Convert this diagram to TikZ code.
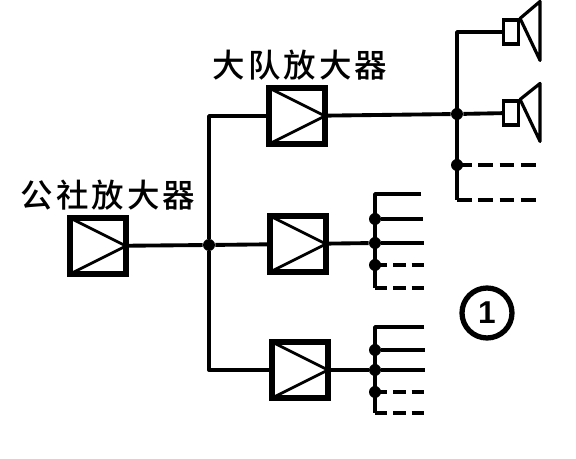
\documentclass[tikz,border=0pt]{standalone}
\usepackage{fontspec}
\newfontfamily\cjk[LetterSpace=9.5]{Noto Sans CJK SC Medium}
\newfontfamily\markfont{Liberation Sans}
\usepackage{tikz}

\begin{document}
\begin{tikzpicture}[
    x=0.02cm, y=-0.02cm,
    amp/.style={rectangle, draw=black, line width=3pt, inner sep=0pt, minimum size=1.12cm,
                path picture={\draw[line width=1.6pt] (path picture bounding box.north west)
                  -- (path picture bounding box.east) -- (path picture bounding box.south west);}},
    spk/.style={rectangle, draw=black, line width=1.8pt, inner sep=0pt, minimum width=0.3cm, minimum height=0.48cm},
    dot/.style={circle, fill=black, inner sep=0pt, minimum size=0.24cm},
    wire/.style={line width=2.2pt, line join=round},
    stub/.style={wire, dash pattern=on 7pt off 3.4pt},
    stublong/.style={wire, dash pattern=on 8.5pt off 3.6pt},
    cone/.style={line width=1.8pt, line join=round},
    lbl/.style={font=\cjk\fontsize{18.5}{18.5}\selectfont, inner sep=0pt}
]
\useasboundingbox (0,0) rectangle (576,459);

\node[lbl] (lblmain) at (108,195) {公社放大器};
\node[lbl] (lblsub)  at (300,65)  {大队放大器};

\node[amp] (ampmain) at (98,246)  {};
\node[amp] (ampa)    at (297,116) {};
\node[amp] (ampb)    at (298,244) {};
\node[amp] (ampc)    at (300,370) {};

\node[dot] (busdot)  at (209,245) {};
\draw[wire] (ampmain) -- (busdot);
\draw[wire] (busdot) |- (ampa);
\draw[wire] (busdot) -- (ampb);
\draw[wire] (busdot) |- (ampc);

% speakers
\node[spk] (spka) at (511,32)  {};
\node[spk] (spkb) at (511,113) {};
\draw[cone] (spka.north east) -- ++(20,-17) -- ++(0,59) -- cycle;
\draw[cone] (spkb.north east) -- ++(20,-16) -- ++(0,58) -- cycle;

\node[dot] (hubaa) at (457,114) {};
\node[dot] (hubab) at (457,165) {};
\coordinate (topa) at (457,32);
\coordinate (lowa) at (457,200);
\coordinate (enda) at (536,165);
\coordinate (endb) at (538,200);
\draw[wire] (ampa) -- (hubaa);
\draw[wire] (hubaa) -- (spkb);
\draw[wire] (spka.west) -| (topa) -- (lowa);
\draw[stublong] (hubab.center) -- (enda);
\draw[stublong] (lowa) -- (endb);

% second group
\node[dot] (hubba) at (375,219) {};
\node[dot] (hubbb) at (375,243) {};
\node[dot] (hubbc) at (375,265) {};
\coordinate (topb) at (375,194);
\coordinate (lowb) at (375,288);
\coordinate (endba) at (421,194);
\coordinate (endbb) at (423,219);
\coordinate (endbc) at (424,243);
\coordinate (endbd) at (424,265);
\coordinate (endbe) at (424,288);
\draw[wire] (ampb) -- (hubbb);
\draw[wire] (endba) -- (topb) -- (lowb);
\draw[wire] (hubba) -- (endbb);
\draw[wire] (hubbb) -- (endbc);
\draw[stub] (hubbc.center) -- (endbd);
\draw[stub] (lowb) -- (endbe);

% third group
\node[dot] (hubca) at (375,350) {};
\node[dot] (hubcb) at (375,370) {};
\node[dot] (hubcc) at (375,392) {};
\coordinate (topc) at (375,327);
\coordinate (lowc) at (375,413);
\coordinate (endca) at (424,327);
\coordinate (endcb) at (425,350);
\coordinate (endcc) at (425,370);
\coordinate (endcd) at (424,392);
\coordinate (endce) at (424,413);
\draw[wire] (ampc) -- (hubcb);
\draw[wire] (endca) -- (topc) -- (lowc);
\draw[wire] (hubca) -- (endcb);
\draw[wire] (hubcb) -- (endcc);
\draw[stub] (hubcc.center) -- (endcd);
\draw[stub] (lowc) -- (endce);

\node[circle, draw=black, line width=3pt, inner sep=0pt, minimum size=1cm,
      font=\markfont\bfseries\fontsize{18}{18}\selectfont] (mark) at (487,313) {1};
\end{tikzpicture}
\end{document}
